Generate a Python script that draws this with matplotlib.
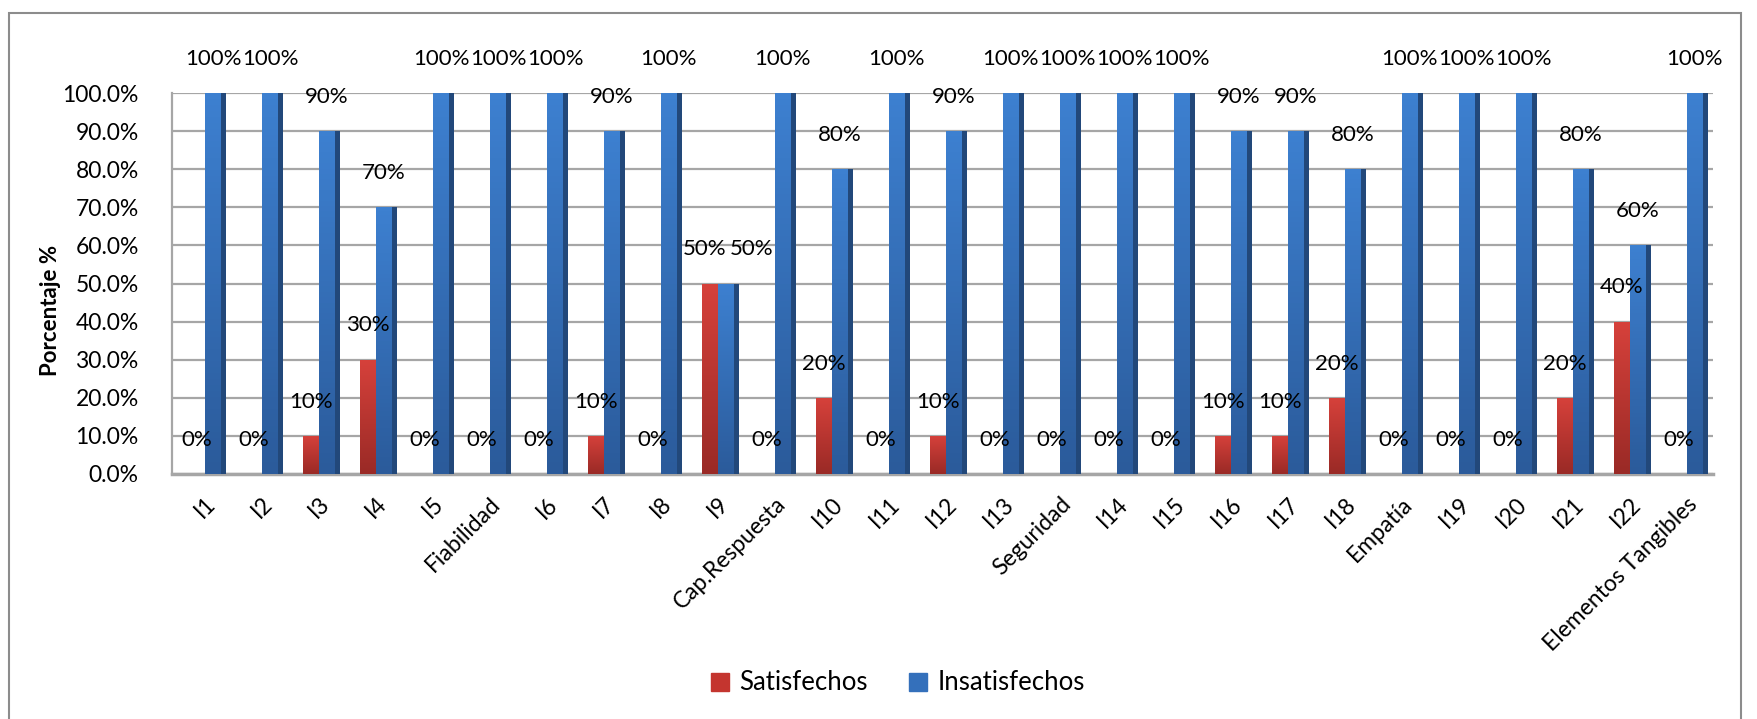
import numpy as np
import matplotlib
matplotlib.use("Agg")
from matplotlib import pyplot as plt
from matplotlib.patches import Rectangle
from matplotlib.colors import LinearSegmentedColormap

plt.rcParams['font.family'] = ['Lato', 'DejaVu Sans']

categorias = ["I1", "I2", "I3", "I4", "I5", "Fiabilidad", "I6", "I7", "I8", "I9",
              "Cap.Respuesta", "I10", "I11", "I12", "I13", "Seguridad", "I14", "I15",
              "I16", "I17", "I18", "Empatía", "I19", "I20", "I21", "I22",
              "Elementos Tangibles"]
satisfechos = [0, 0, 10, 30, 0, 0, 0, 10, 0, 50, 0, 20, 0, 10, 0, 0, 0, 0,
               10, 10, 20, 0, 0, 0, 20, 40, 0]
insatisfechos = [100, 100, 90, 70, 100, 100, 100, 90, 100, 50, 100, 80, 100, 90,
                 100, 100, 100, 100, 90, 90, 80, 100, 100, 100, 80, 60, 100]
ticks_y = [0, 10, 20, 30, 40, 50, 60, 70, 80, 90, 100]

fig = plt.figure(figsize=(17.57, 7.19), dpi=100)
ax = fig.add_axes([172 / 1757, 1 - 474 / 719, (1713 - 172) / 1757, (474 - 93) / 719])

x = np.arange(len(categorias))
w = 0.28
d = 0.09

rojo = LinearSegmentedColormap.from_list("rojo", ["#9a2a26", "#d6413b"])
azul = LinearSegmentedColormap.from_list("azul", ["#2b5b9b", "#3d80d0"])
grad = np.linspace(0, 1, 64).reshape(-1, 1)


def degradado(barras, cmap):
    # paint each bar with a vertical gradient clipped to its rectangle
    for p in barras:
        x0, y0 = p.get_x(), p.get_y()
        ww, hh = p.get_width(), p.get_height()
        if hh <= 0:
            continue
        im = ax.imshow(grad, cmap=cmap, origin="lower", aspect="auto",
                       extent=(x0, x0 + ww, y0, y0 + hh), zorder=p.get_zorder() + 0.1)
        im.set_clip_path(p)


b_rojo = ax.bar(x - w / 2, satisfechos, width=w, color="#c4352f", zorder=3)
b_azul = ax.bar(x + w / 2, insatisfechos, width=w, color="#3470bb", zorder=3)
ax.bar(x + w + d / 2, insatisfechos, width=d, color="#22487a", zorder=3)
degradado(b_rojo, rojo)
degradado(b_azul, azul)

for xi, s, i in zip(x, satisfechos, insatisfechos):
    cerca = abs(s - i) < 12
    ax.text(xi - w / 2 - (0.1 if cerca else 0.0), s + 9, f"{s}%", ha="center",
            va="center", fontsize=16, clip_on=False, zorder=5)
    ax.text(xi + w / 2 + (0.45 if cerca else 0.0), i + 9, f"{i}%", ha="center",
            va="center", fontsize=16, clip_on=False, zorder=5)

ax.set_xlim(-0.58, 26.46)
ax.set_ylim(0, 100)
ax.set_yticks(ticks_y)
ax.set_yticklabels([f"{t:.1f}%" for t in ticks_y], fontsize=16.5)
ax.set_xticks(x)
ax.set_xticklabels(categorias, rotation=45, ha="right", rotation_mode="anchor",
                   fontsize=16.5)
ax.tick_params(axis="y", length=0, pad=24)
ax.tick_params(axis="x", length=0, pad=14)
ax.yaxis.grid(True, color="#a6a6a6", linewidth=1.6, zorder=0)
ax.set_axisbelow(True)
for s in ["top", "right"]:
    ax.spines[s].set_visible(False)
ax.spines["left"].set_color("#a6a6a6")
ax.spines["left"].set_linewidth(1.6)
ax.spines["bottom"].set_color("#a6a6a6")
ax.spines["bottom"].set_linewidth(2.5)

ax.set_ylabel("Porcentaje %", fontsize=16, fontweight="bold")
ax.yaxis.set_label_coords(-0.072, 0.43)

h1 = Rectangle((0, 0), 1, 1, color="#c4352f")
h2 = Rectangle((0, 0), 1, 1, color="#3470bb")
fig.legend([h1, h2], ["Satisfechos", "Insatisfechos"], loc="center",
           bbox_to_anchor=(898 / 1757, 1 - 683 / 719), ncol=2, frameon=False,
           fontsize=18.5, handlelength=0.7, handleheight=0.7, columnspacing=1.6,
           handletextpad=0.4)

fig.patches.append(Rectangle((9 / 1757, -0.01), (1741 - 9) / 1757, 1 - 13 / 719 + 0.01,
                             transform=fig.transFigure, fill=False,
                             edgecolor="#8c8c8c", linewidth=1.5))

fig.savefig("out.png", dpi=100)
